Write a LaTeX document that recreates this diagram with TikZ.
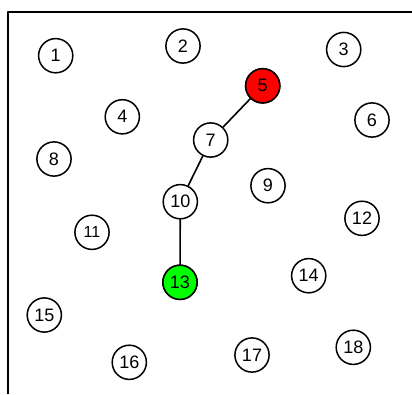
\documentclass[tikz,border=0pt]{standalone}
\usepackage{fontspec}
\setmainfont{Liberation Sans}
\definecolor{startred}{RGB}{255,0,0}
\definecolor{goalgreen}{RGB}{0,255,0}
\tikzset{
	vertex/.style={circle, draw, line width=1.5pt, fill=white, minimum size=34.2pt, inner sep=0pt, font=\fontsize{18}{18}\selectfont},
	link/.style={line width=1.6pt}
}
\begin{document}
\begin{tikzpicture}[x=1pt, y=-1pt, line join=round, line cap=round]
		\useasboundingbox (0,0) rectangle (412,394);
		\draw[line width=2.2pt, line cap=butt] (8,394)--(8,12)--(412,12);
		\foreach \n/\x/\y in {1/55.7/55.7, 2/183/46, 3/343.7/49.5, 4/122.3/116.8, 5/262.7/85.8, 6/372/120, 7/210.7/140, 8/54/159, 9/268/185.7, 10/180.3/201.7, 12/362/218.3, 13/180/282.3, 14/308.7/275.7, 15/44.3/315, 16/129.3/362.3, 17/252/355, 18/353.3/347.3}\node[vertex] (v\n) at (\x,\y) {\n};
		\node[vertex, font=\fontsize{16}{16}\selectfont] (v11) at (92,232.3) {11};
		\node[vertex, fill=startred] at (v5) {5};
		\node[vertex, fill=goalgreen] at (v13) {13};
		\draw[link] (v5)--(v7)--(v10)--(v13);
		\end{tikzpicture}
\end{document}
